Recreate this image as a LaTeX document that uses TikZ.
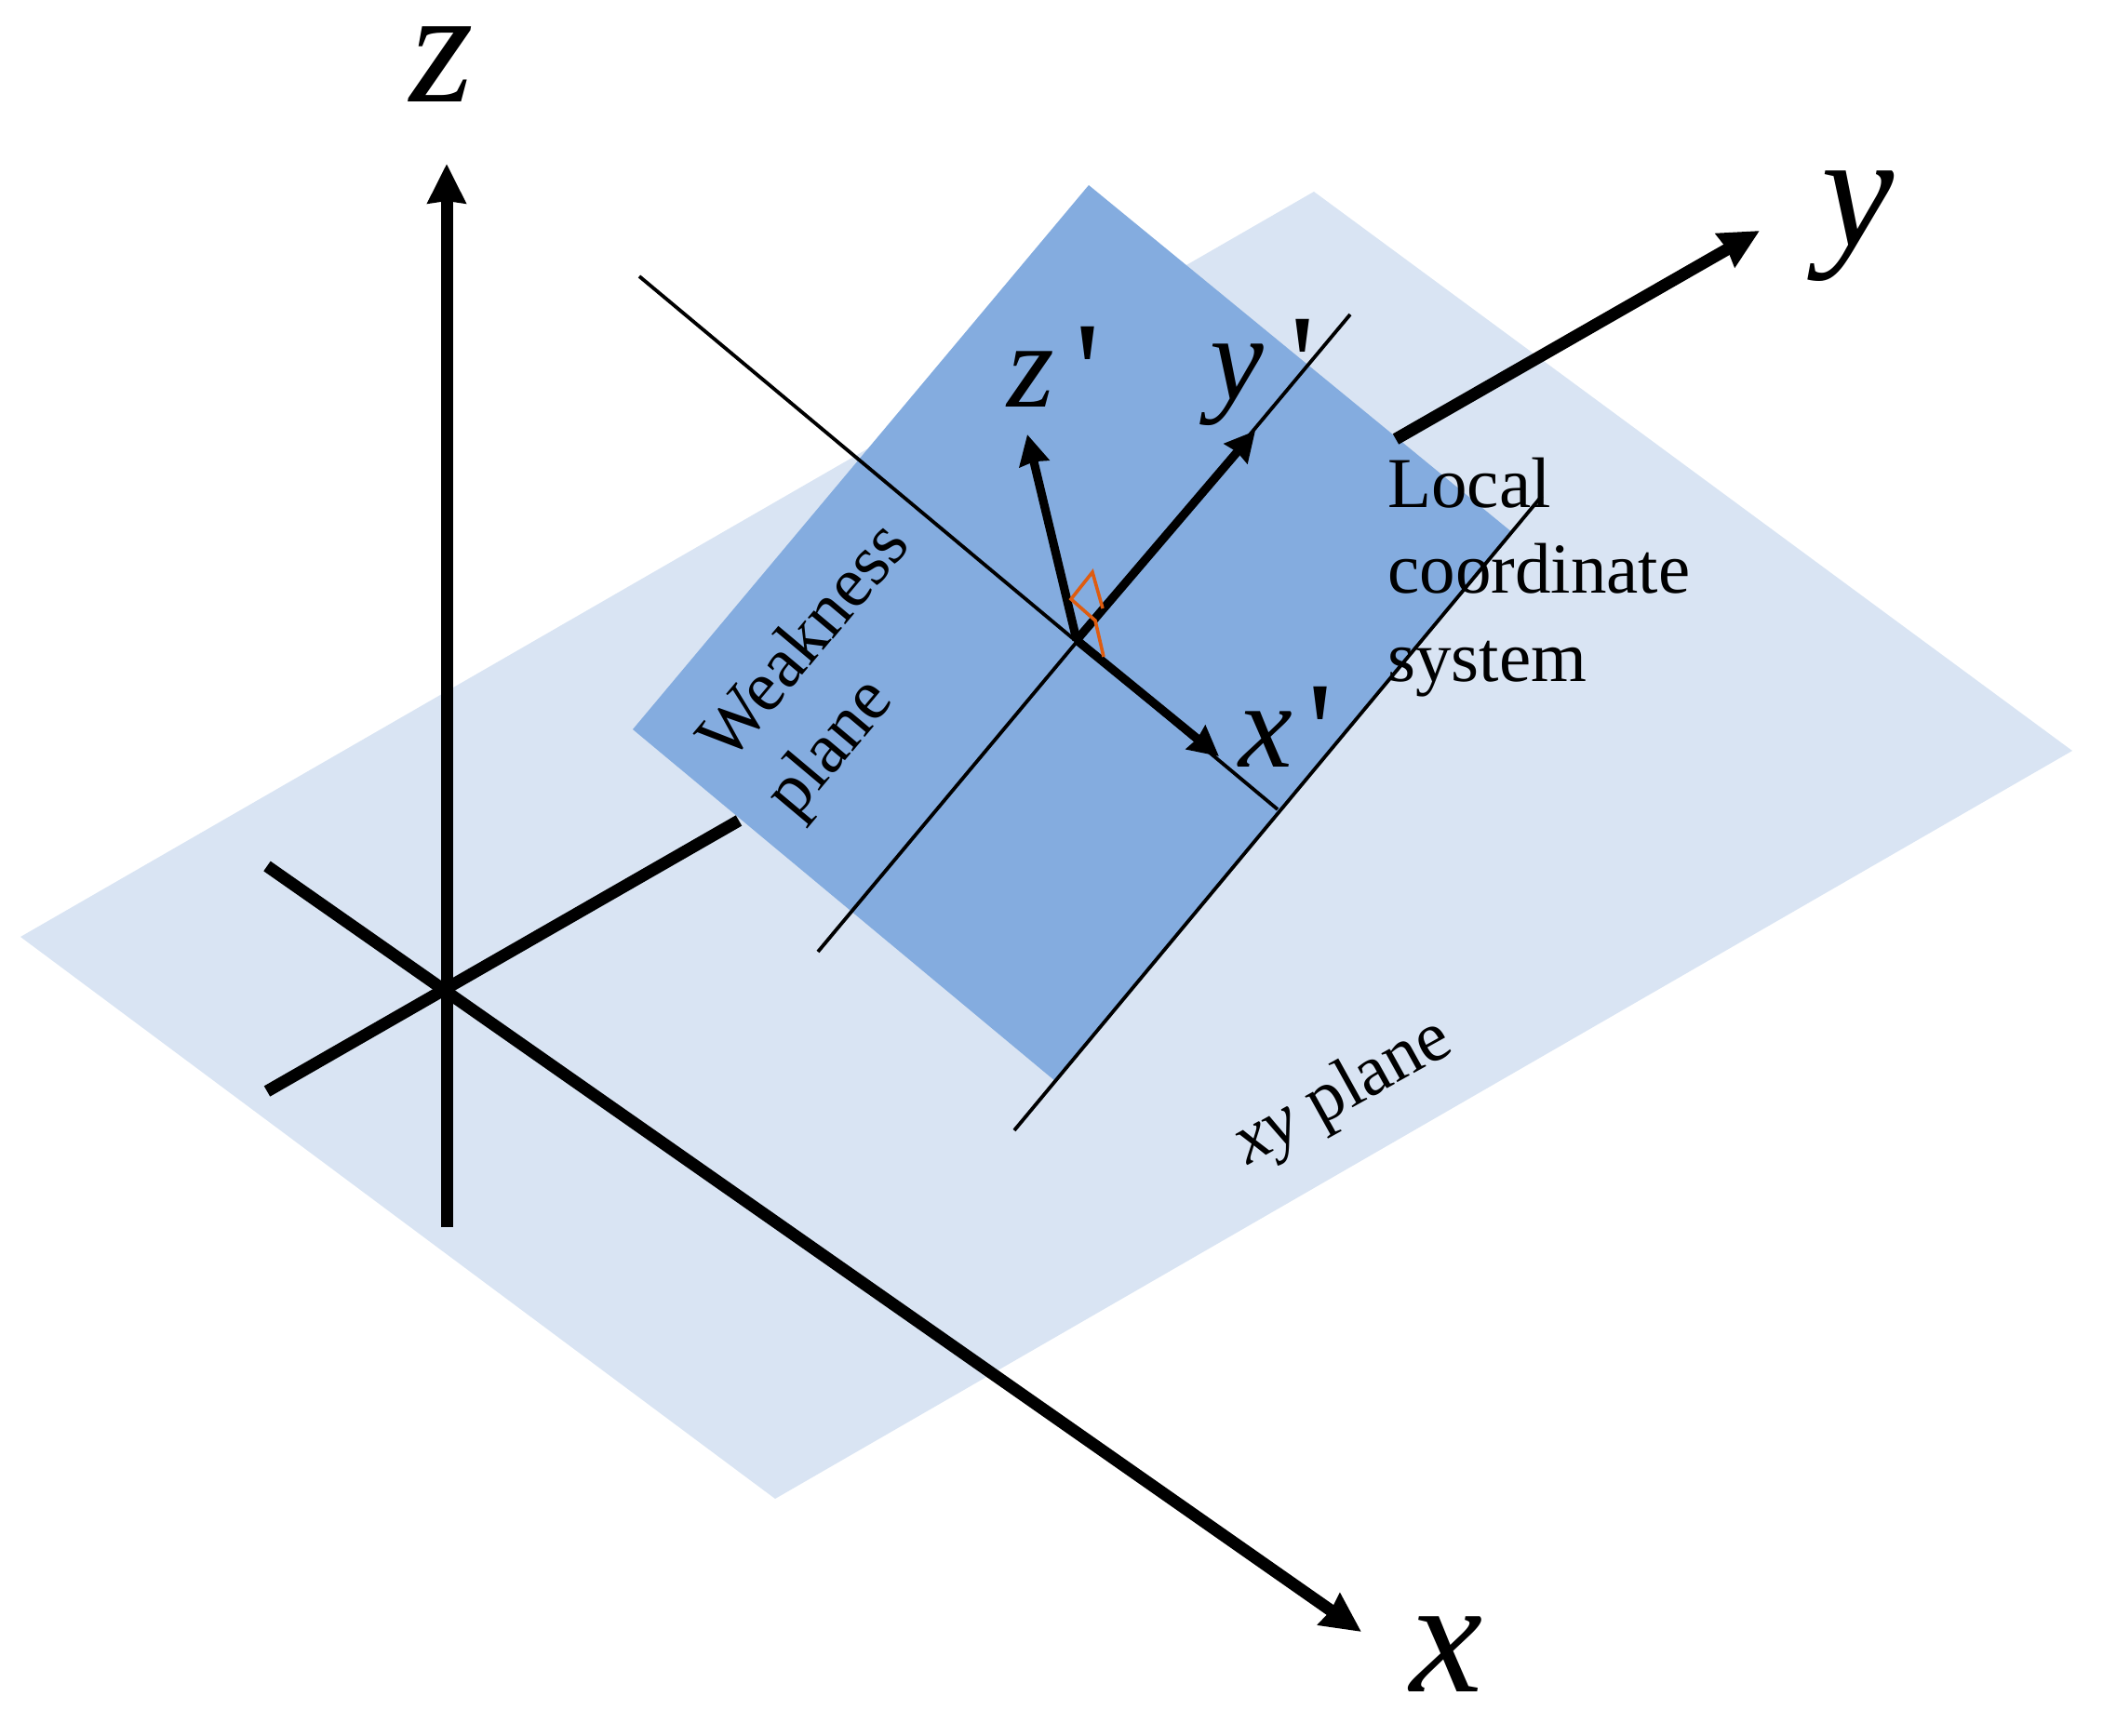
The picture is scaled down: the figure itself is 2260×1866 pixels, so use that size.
\documentclass[tikz,border=0pt]{standalone}
\usepackage{fontspec}
\usetikzlibrary{arrows.meta}
\newfontfamily\labfont{Liberation Serif}
\newcommand{\bigprimemark}{\raisebox{-6pt}{\upshape\fontsize{75}{75}\selectfont '}}
\definecolor{lightplane}{RGB}{217,228,243}
\definecolor{darkplane}{RGB}{132,172,223}
\definecolor{anglemark}{RGB}{222,92,16}
\tikzset{
  axisline/.style={line width=6.5pt,black},
  axisarrow/.style={axisline,-{Stealth[length=21pt,width=20pt,inset=1pt]}},
  localarrow/.style={line width=4.6pt,black,-{Stealth[length=16pt,width=16pt,inset=1pt]}},
  thinline/.style={line width=1.9pt,black},
  biglabel/.style={inner sep=0,anchor=base west,font=\labfont\itshape\fontsize{88}{88}\selectfont},
  midlabel/.style={inner sep=0,anchor=base west,font=\labfont\itshape\fontsize{65}{65}\selectfont},
  textlabel/.style={inner sep=0,font=\labfont\fontsize{38.5}{46.75}\selectfont,align=left}
}
\begin{document}
\begin{tikzpicture}[x=0.5pt,y=-0.5pt]
\useasboundingbox (0,0) rectangle (2260,1866);
% planes
\fill[lightplane] (22,1007) -- (1412,206) -- (2227,807) -- (833,1611) -- cycle;
\fill[darkplane] (1170,199) -- (1626,573) -- (1134,1162) -- (680,784) -- cycle;
% named points
\coordinate (O) at (480,1064);
\coordinate (C) at (1157,688);
\coordinate (zbot) at (480,1319);
\coordinate (ztop) at (480,176);
\coordinate (xback) at (287,931);
\coordinate (xtip) at (1463,1754);
\coordinate (yback) at (287,1173);
\coordinate (yhide) at (794,882);
\coordinate (yshow) at (1500,472);
\coordinate (ytip) at (1891,248);
\coordinate (la) at (687,297);
\coordinate (lb) at (1373,870);
\coordinate (ma) at (879,1023);
\coordinate (mb) at (1451,338);
\coordinate (na) at (1090,1215);
\coordinate (nb) at (1657,533);
\coordinate (zp) at (1104,467);
\coordinate (yp) at (1349,463);
\coordinate (xp) at (1310,813);
% global axes
\draw[axisarrow] (zbot) -- (ztop);
\draw[axisarrow] (xback) -- (xtip);
\draw[axisline] (yback) -- (yhide);
\draw[axisarrow] (yshow) -- (ytip);
% thin lines
\draw[thinline] (la) -- (lb);
\draw[thinline] (ma) -- (mb);
\draw[thinline] (na) -- (nb);
% local axes
\draw[localarrow] (C) -- (zp);
\draw[localarrow] (C) -- (yp);
\draw[localarrow] (C) -- (xp);
% right-angle mark
\draw[anglemark,line width=1.8pt,line join=miter] (1185,654) -- (1174,615) -- (1151,644) -- (1177,667) -- (1186,706);
% labels
\node[biglabel] (lz) at (440,110) {z};
\node[biglabel] (lx) at (1515,1818) {x};
\node[biglabel] (ly) at (1957,265) {y};
\node[midlabel] (lzp) at (1082,438) {z\hspace{11pt}\bigprimemark};
\node[midlabel] (lyp) at (1300,430) {y\hspace{14pt}\bigprimemark};
\node[midlabel] (lxp) at (1331,824) {x\hspace{8pt}\bigprimemark};
\node[textlabel,anchor=base west] (t1) at (1491,546) {Local};
\node[textlabel,anchor=base west] (t2) at (1491,638) {coordinate};
\node[textlabel,anchor=base west] (t3) at (1491,733) {system};
\node[textlabel,rotate=50] (wp) at (903,722) {Weakness\\plane};
\node[textlabel,rotate=29] (xyp) at (1444,1175) {\itshape xy\upshape{} plane};
\end{tikzpicture}
\end{document}
